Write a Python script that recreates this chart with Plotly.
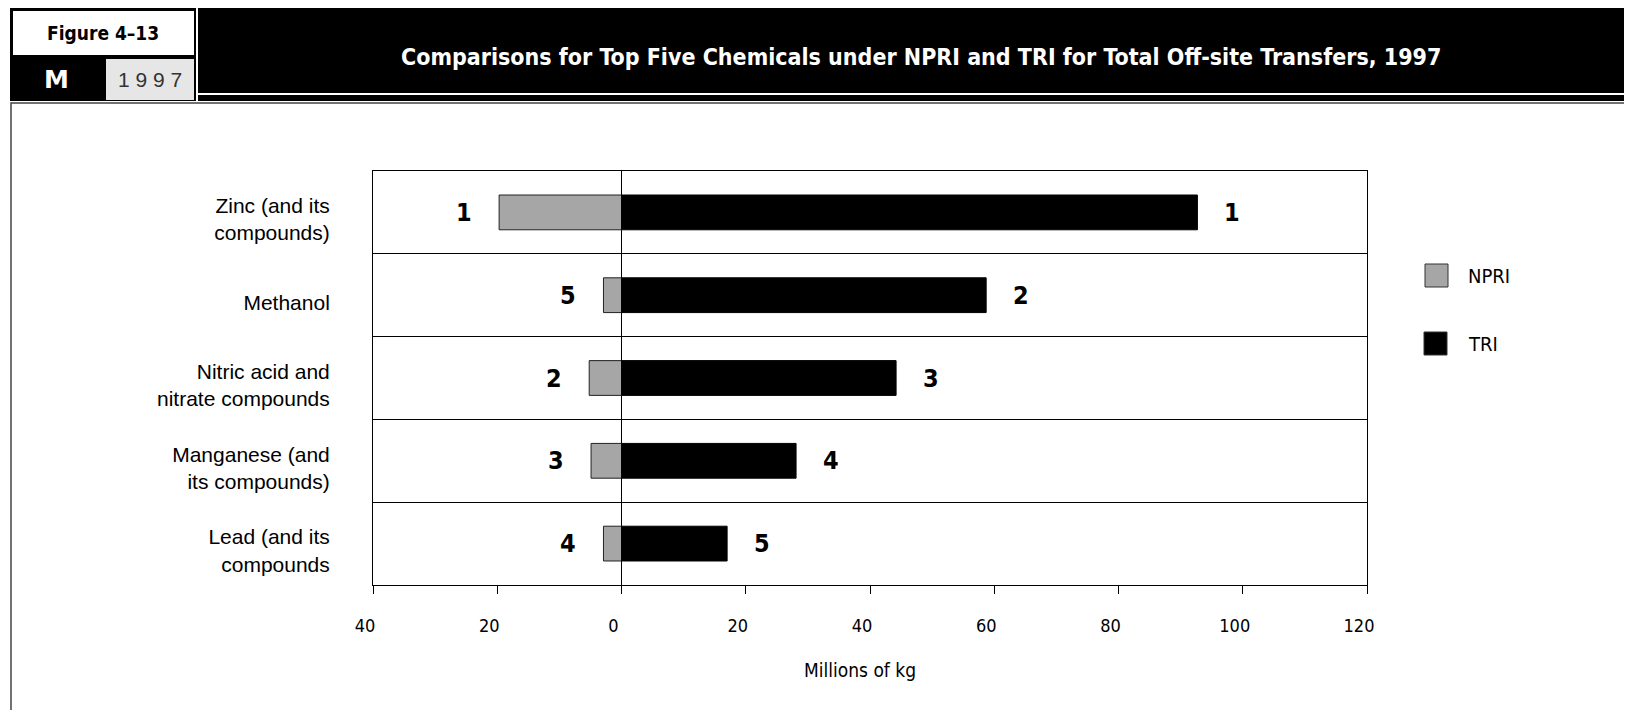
import plotly.graph_objects as go

# ---- data ----
chemicals = ["Zinc (and its<br>compounds)", "Methanol", "Nitric acid and<br>nitrate compounds",
             "Manganese (and<br>its compounds)", "Lead (and its<br>compounds"]
npri = [19.7, 2.9, 5.2, 4.9, 2.9]      # millions of kg (plotted to the left)
tri = [92.7, 58.7, 44.2, 28.1, 17.0]   # millions of kg
npri_rank = ["1", "5", "2", "3", "4"]
tri_rank = ["1", "2", "3", "4", "5"]
tick_vals = [-40, -20, 0, 20, 40, 60, 80, 100, 120]
tick_text = ["40", "20", "0", "20", "40", "60", "80", "100", "120"]

# page has an 8px body margin; work in page pixels and convert
OFF = 8
W, H = 1632 - 2 * OFF, 718 - 2 * OFF
L, R, T, B = 373, 1367, 171, 585          # plot box in page pixels
def px(x):
    return (x - L) / (R - L)
def py(y):
    return (B - y) / (B - T)

NARROW = "DejaVu Sans Condensed, Liberation Sans Narrow, sans-serif"
REG = "Liberation Sans, Arial, sans-serif"

fig = go.Figure()
fig.add_trace(go.Bar(y=chemicals, x=[-v for v in npri], orientation="h", name="NPRI",
                     marker=dict(color="#a6a6a6", line=dict(color="#222222", width=1)),
                     width=0.42, hoverinfo="skip"))
fig.add_trace(go.Bar(y=chemicals, x=tri, orientation="h", name="TRI",
                     marker=dict(color="#000000", line=dict(color="#000000", width=1)),
                     width=0.42, hoverinfo="skip"))

ann = []
for c, v, r in zip(chemicals, npri, npri_rank):
    ann.append(dict(x=-v, y=c, xref="x", yref="y", text=r, showarrow=False, xshift=-35,
                    xanchor="center", yanchor="middle",
                    font=dict(family=NARROW, size=25, color="black", weight="bold")))
for c, v, r in zip(chemicals, tri, tri_rank):
    ann.append(dict(x=v, y=c, xref="x", yref="y", text=r, showarrow=False, xshift=35,
                    xanchor="center", yanchor="middle",
                    font=dict(family=NARROW, size=25, color="black", weight="bold")))

def label(x, y, text, font, xanchor="center"):
    ann.append(dict(x=px(x), y=py(y), xref="paper", yref="paper", text=text,
                    showarrow=False, xanchor=xanchor, yanchor="middle", font=font))

label(860, 670, "Millions of kg", dict(family=NARROW, size=19, color="black"))
label(1466, 276, "NPRI", dict(family=NARROW, size=20, color="black"), xanchor="left")
label(1466, 344, "TRI", dict(family=NARROW, size=20, color="black"), xanchor="left")
label(921, 57, "Comparisons for Top Five Chemicals under NPRI and TRI for Total Off-site Transfers, 1997",
      dict(family=NARROW, size=23, color="white", weight="bold"))
label(103, 33, "Figure 4–13", dict(family=NARROW, size=19, color="black", weight="bold"))
label(56, 80, "M", dict(family="DejaVu Sans, Arial Black, sans-serif", size=25, color="white", weight="bold"))
label(150, 80, "1 9 9 7", dict(family=REG, size=21, color="#333333"))

shapes = []
def rect(x0, y0, x1, y1, fill=None, line=None, lw=0):
    shapes.append(dict(type="rect", xref="paper", yref="paper",
                       x0=px(x0), x1=px(x1), y0=py(y0), y1=py(y1),
                       fillcolor=fill if fill else "rgba(0,0,0,0)",
                       line=dict(color=line if line else "rgba(0,0,0,0)", width=lw)))
def seg(x0, y0, x1, y1, color, lw):
    shapes.append(dict(type="line", xref="paper", yref="paper",
                       x0=px(x0), x1=px(x1), y0=py(y0), y1=py(y1),
                       line=dict(color=color, width=lw)))

# header
rect(10, 8, 1650, 101, fill="black")
rect(13, 11, 194, 55, fill="white")
rect(106, 59, 194, 100, fill="#e6e6e6")
seg(197, 8, 197, 101, "white", 2)
seg(198, 94, 1650, 94, "white", 2)
# outer frame
rect(11, 103, 1660, 716, line="#444444", lw=1.5)
# legend squares
rect(1425, 264, 1448, 287, fill="#a6a6a6", line="#333333", lw=1)
rect(1424, 332, 1447, 355, fill="black", line="#333333", lw=1)

fig.update_layout(
    width=W, height=H,
    margin=dict(l=L - OFF, r=W - (R - OFF), t=T - OFF, b=H - (B - OFF), pad=0),
    paper_bgcolor="white", plot_bgcolor="white",
    barmode="relative", showlegend=False,
    annotations=ann, shapes=shapes,
    xaxis=dict(range=[-40, 120], tickvals=tick_vals, ticktext=tick_text,
               ticks="outside", ticklen=8, tickcolor="black", tickwidth=1,
               ticklabelstandoff=16, ticklabelshift=-8,
               tickfont=dict(family=NARROW, size=18, color="black"),
               showgrid=False, zeroline=True, zerolinecolor="black", zerolinewidth=1,
               showline=True, linecolor="black", linewidth=1, mirror=True, fixedrange=True),
    yaxis=dict(categoryorder="array", categoryarray=chemicals, range=[4.5, -0.5],
               tickson="boundaries", ticks="", showgrid=True, gridcolor="black", gridwidth=1,
               ticklabelstandoff=38, ticklabelshift=-7,
               tickfont=dict(family=REG, size=21, color="black"),
               showline=True, linecolor="black", linewidth=1, mirror=True, fixedrange=True),
)

fig.write_html("out.html")
